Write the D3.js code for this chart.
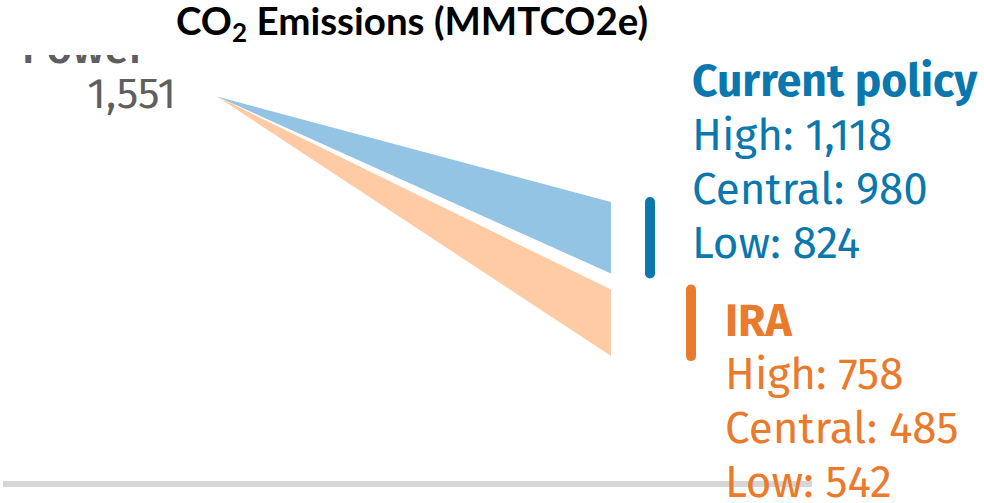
<!DOCTYPE html>
<html>
<head>
<meta charset="utf-8">
<script src="https://cdn.jsdelivr.net/npm/d3@7"></script>
<style>
  html, body { margin: 0; padding: 0; background: #fff; }
  svg { display: block; }
</style>
</head>
<body>
<svg id="chart" width="984" height="503"></svg>
<script>
// Power-sector CO2 emissions, 2021 baseline and 2030 projections
const sector = "Power";
const baseYear = 2021;
const targetYear = 2030;
const baseValue = 1551;

const scenarios = ["Current policy", "IRA"];
const highValues = [1118, 758];
const centralValues = [980, 485];
const lowValues = [824, 542];
// the wedge spans from the high estimate down to the lowest estimate
const wedgeLow = [824, 485];

const wedgeColors = ["#93c4e3", "#fecba5"];
const textColors = ["#0a77ae", "#ea7a2c"];

const svg = d3.select("#chart");
const fontStack = "'Fira Sans', 'Open Sans', sans-serif";
const fmt = d3.format(",");

const x = d3.scaleLinear().domain([baseYear, targetYear]).range([217, 611]);
const y = d3.scaleLinear().domain([0, baseValue]).range([474.2, 96.5]);

// baseline rule
svg.append("line")
  .attr("x1", 3).attr("x2", 812)
  .attr("y1", 484).attr("y2", 484)
  .attr("stroke", "#d6d6d6").attr("stroke-width", 6);

// sector label, only the lower edge shows below the title band
svg.append("defs").append("clipPath").attr("id", "belowTitle")
  .append("rect").attr("x", 0).attr("y", 55).attr("width", 300).attr("height", 60);
svg.append("text")
  .attr("clip-path", "url(#belowTitle)")
  .attr("x", 146).attr("y", 63)
  .attr("text-anchor", "end")
  .attr("font-family", fontStack).attr("font-size", 44).attr("font-weight", 500)
  .attr("fill", "#5f5f5f")
  .text(sector);

// base year value
svg.append("text")
  .attr("x", 176).attr("y", 108)
  .attr("text-anchor", "end")
  .attr("font-family", fontStack).attr("font-size", 43)
  .attr("fill", "#5f5f5f")
  .text(fmt(baseValue));

// projection wedges
const area = d3.line().x(d => x(d[0])).y(d => y(d[1]));
scenarios.forEach((s, i) => {
  svg.append("path")
    .attr("d", area([[baseYear, baseValue], [targetYear, highValues[i]], [targetYear, wedgeLow[i]]]) + "Z")
    .attr("fill", wedgeColors[i]);
});

// range bars beside the wedge ends
const barOffset = [39, 80];
scenarios.forEach((s, i) => {
  svg.append("line")
    .attr("x1", x(targetYear) + barOffset[i]).attr("x2", x(targetYear) + barOffset[i])
    .attr("y1", y(highValues[i])).attr("y2", y(wedgeLow[i]))
    .attr("stroke", textColors[i]).attr("stroke-width", 10)
    .attr("stroke-linecap", "round");
});

// scenario labels
const labelX = [692, 725];
const labelY = [96, 336];
const lineGap = 54;
scenarios.forEach((s, i) => {
  const g = svg.append("g")
    .attr("font-family", fontStack)
    .attr("fill", textColors[i]);
  g.append("text")
    .attr("x", labelX[i]).attr("y", labelY[i])
    .attr("font-size", 44.5).attr("font-weight", 700)
    .text(s);
  const rows = [
    "High: " + fmt(highValues[i]),
    "Central: " + fmt(centralValues[i]),
    "Low: " + fmt(lowValues[i])
  ];
  rows.forEach((r, j) => {
    g.append("text")
      .attr("x", labelX[i]).attr("y", labelY[i] + lineGap * (j + 1) - (i === 1 ? 1 : 0))
      .attr("font-size", 44)
      .text(r);
  });
});

// title
const title = svg.append("text")
  .attr("x", 412).attr("y", 35)
  .attr("text-anchor", "middle")
  .attr("font-family", "Lato, 'Open Sans', sans-serif")
  .attr("font-size", 38.5).attr("font-weight", 700)
  .attr("fill", "#000");
title.append("tspan").text("CO");
title.append("tspan").attr("font-size", 26).attr("dy", 7).text("2");
title.append("tspan").attr("dy", -7).text(" Emissions (MMTCO2e)");
</script>
</body>
</html>
